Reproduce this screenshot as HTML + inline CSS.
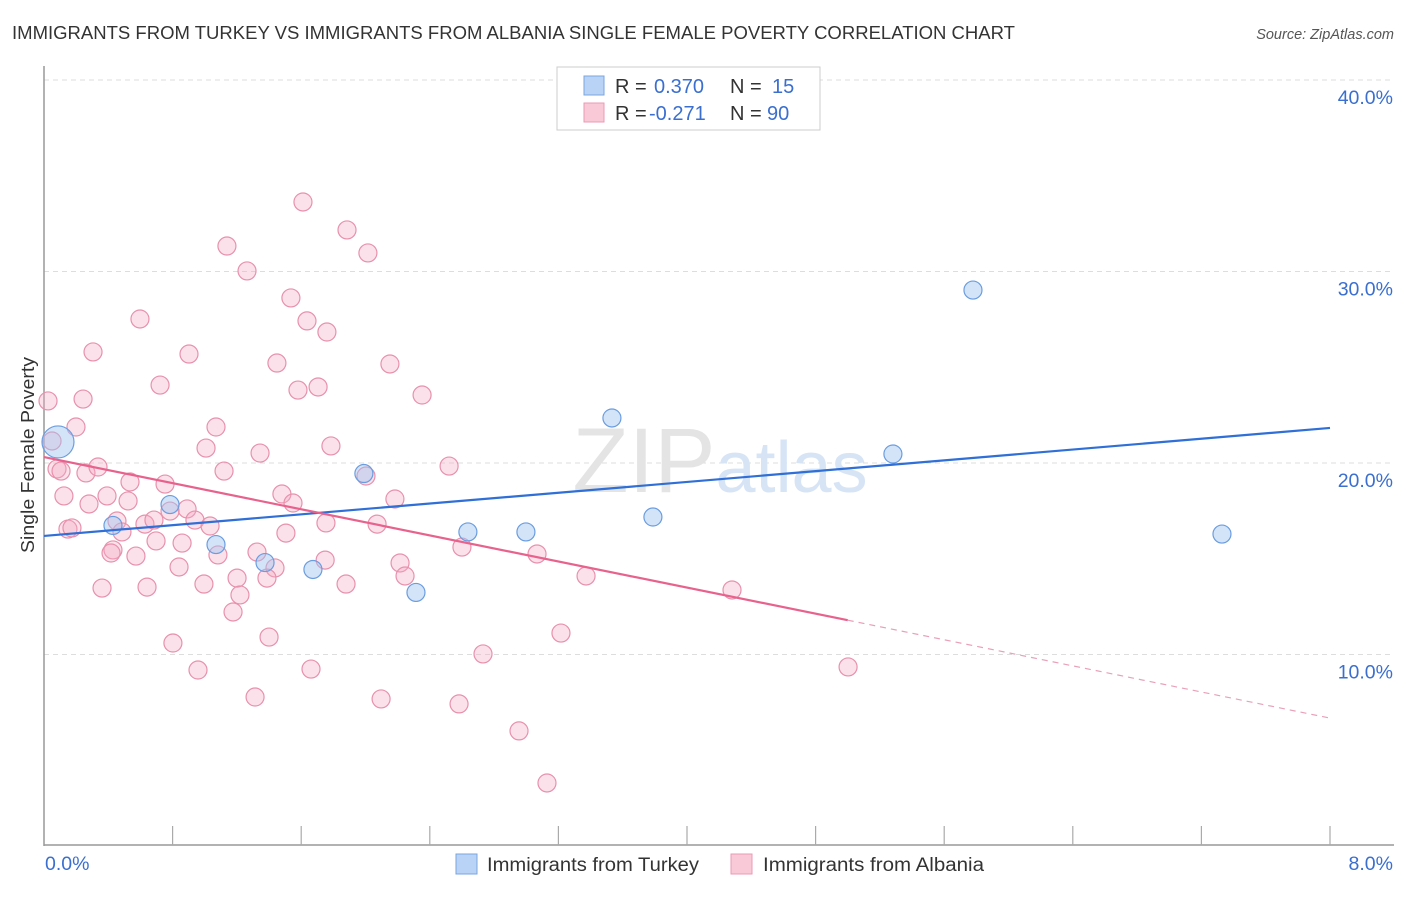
<!DOCTYPE html>
<html><head><meta charset="utf-8">
<style>
body{margin:0;background:#fff;font-family:"Liberation Sans",sans-serif;}
svg text{font-family:"Liberation Sans",sans-serif;}
</style></head>
<body>
<svg id="chart" width="1406" height="892" viewBox="0 0 1406 892" xmlns="http://www.w3.org/2000/svg">
<text x="12" y="39" font-size="18" fill="#333" textLength="1003" lengthAdjust="spacingAndGlyphs">IMMIGRANTS FROM TURKEY VS IMMIGRANTS FROM ALBANIA SINGLE FEMALE POVERTY CORRELATION CHART</text>
<text x="1394" y="39" font-size="14.5" fill="#555" font-style="italic" text-anchor="end">Source: ZipAtlas.com</text>
<g id="grid"></g>
<text x="720" y="492" font-size="92" fill="#e4e4e4" text-anchor="middle" font-family="Liberation Serif"><tspan>ZIP</tspan><tspan fill="#d6e4f6" font-family="Liberation Sans" font-size="72">atlas</tspan></text>
<g id="axes"></g>
<g id="points"></g>
<g id="trends"></g>
<text transform="translate(34,455) rotate(-90)" font-size="18" fill="#333" text-anchor="middle" textLength="196" lengthAdjust="spacingAndGlyphs">Single Female Poverty</text>
<g>
<rect x="557" y="67" width="263" height="63" fill="#fff" stroke="#ccc"/>
<rect x="584" y="76" width="20" height="19" fill="#b8d3f5" stroke="#7aa6e0"/>
<rect x="584" y="103" width="20" height="19" fill="#f9c9d8" stroke="#ea9ab4"/>
<text x="615" y="93" font-size="20" fill="#333">R = <tspan x="654" fill="#3a6fd0">0.370</tspan><tspan x="730">N = </tspan><tspan x="772" fill="#3a6fd0">15</tspan></text>
<text x="615" y="120" font-size="20" fill="#333">R = <tspan x="649" fill="#3a6fd0">-0.271</tspan><tspan x="730">N = </tspan><tspan x="767" fill="#3a6fd0">90</tspan></text>
</g>
<g>
<rect x="456" y="854" width="21" height="20" fill="#b8d3f5" stroke="#7aa6e0"/>
<text x="487" y="871" font-size="19" fill="#333" textLength="212" lengthAdjust="spacingAndGlyphs">Immigrants from Turkey</text>
<rect x="731" y="854" width="21" height="20" fill="#f9c9d8" stroke="#ea9ab4"/>
<text x="763" y="871" font-size="19" fill="#333" textLength="221" lengthAdjust="spacingAndGlyphs">Immigrants from Albania</text>
</g>
</svg>
<script>
const yTicks=[10,20,30,40];
const yTickLabels=["10.0%","20.0%","30.0%","40.0%"];
const xTickLabels=["0.0%","8.0%"];
const turkeyX=[0.087,0.429,0.784,1.07,1.375,1.673,1.99,2.314,2.637,2.998,3.533,3.788,5.281,5.779,7.328];
const turkeyY=[21.1,16.74,17.83,15.74,14.8,14.44,19.45,13.24,16.4,16.4,22.35,17.18,20.47,29.03,16.29];
const turkeySize=[16,9,9,9,9,9,9,9,9,9,9,9,9,9,9];
const albaniaX=[1.611,1.885,2.015,1.138,1.263,1.536,1.636,1.76,0.597,0.305,0.902,1.449,2.152,0.722,1.58,1.705,2.352,0.243,0.025,1.07,0.199,0.05,1.785,1.008,1.344,2.52,0.081,0.106,0.261,0.336,1.12,2.003,0.753,0.535,0.124,1.48,1.549,2.183,0.28,0.392,0.523,0.89,0.784,0.454,0.628,0.939,0.684,1.754,2.072,0.149,0.174,0.485,1.033,1.505,0.697,0.859,2.6,0.429,0.417,0.572,1.082,1.325,1.749,3.067,2.215,0.84,1.437,1.201,1.387,2.246,3.372,0.361,0.641,0.995,1.879,1.219,4.28,1.176,3.216,0.802,1.4,2.731,0.958,1.661,5.002,1.313,2.097,2.582,2.955,3.129];
const albaniaY=[33.63,32.17,30.97,31.33,30.03,28.62,27.42,26.84,27.52,25.8,25.69,25.22,25.17,24.07,23.81,23.97,23.55,23.34,23.24,21.88,21.88,21.15,20.89,20.78,20.52,19.84,19.69,19.58,19.48,19.79,19.58,19.32,18.9,19.01,18.28,18.38,17.91,18.12,17.86,18.28,18.02,17.6,17.49,16.97,16.81,17.02,17.02,16.87,16.81,16.55,16.61,16.4,16.71,16.34,15.93,15.82,15.61,15.46,15.3,15.14,15.2,15.35,14.93,15.25,14.78,14.57,14.52,13.99,13.99,14.1,14.1,13.47,13.52,13.68,13.68,13.11,13.37,12.22,11.12,10.6,10.91,10.03,9.19,9.24,9.35,7.78,7.68,7.42,6.01,3.29];
const turkeyTrend=[16.19,21.83];
const albaniaTrend=[20.31,6.68];
const albaniaSolidEnd=5.0;

const L=44,R=1330,B=846,PX=(R-L)/8,PY=19.15;
const sx=v=>L+v*PX, sy=v=>B-v*PY;
const NS="http://www.w3.org/2000/svg";
function mk(tag,attrs,parent){const e=document.createElementNS(NS,tag);for(const k in attrs)e.setAttribute(k,attrs[k]);parent.appendChild(e);return e;}
const grid=document.getElementById('grid'),axes=document.getElementById('axes'),pts=document.getElementById('points'),tr=document.getElementById('trends');
yTicks.forEach((t,i)=>{
  const l=mk('line',{x1:L,x2:1392,y1:sy(t),y2:sy(t),stroke:'#ddd','stroke-dasharray':'5,4'},grid);
  
  
  const tx=mk('text',{x:1393,y:sy(t)+24,'font-size':19.5,fill:'#3a6fd0','text-anchor':'end'},grid);
  tx.textContent=yTickLabels[i];
  
  
});
const ya=mk('line',{x1:L,x2:L,y1:66,y2:B,stroke:'#999','stroke-width':1.5},axes);


const xa=mk('line',{x1:L,x2:1394,y1:845,y2:845,stroke:'#999','stroke-width':1.5},axes);


for(let i=1;i<=10;i++){
  const t=mk('line',{x1:L+i*PX*0.8,x2:L+i*PX*0.8,y1:826,y2:845,stroke:'#aaa','stroke-width':1.2},axes);
  
  
}
const x0=mk('text',{x:45,y:870,'font-size':19.5,fill:'#3a6fd0'},axes);x0.textContent=xTickLabels[0];


const x1=mk('text',{x:1393,y:870,'font-size':19.5,fill:'#3a6fd0','text-anchor':'end'},axes);x1.textContent=xTickLabels[1];


albaniaX.forEach((x,i)=>{
  const c=mk('circle',{cx:sx(x),cy:sy(albaniaY[i]),r:9,fill:'rgba(244,170,195,0.35)',stroke:'#e891ad','stroke-width':1.2},pts);
  
  
});
turkeyX.forEach((x,i)=>{
  const c=mk('circle',{cx:sx(x),cy:sy(turkeyY[i]),r:turkeySize[i],fill:'rgba(160,196,240,0.45)',stroke:'#6a9de0','stroke-width':1.2},pts);
  
  
});
const lerp=(a,x)=>a[0]+(a[1]-a[0])*x/8;
const bt=mk('line',{x1:sx(0),y1:sy(turkeyTrend[0]),x2:sx(8),y2:sy(turkeyTrend[1]),stroke:'#2f6fd6','stroke-width':2.2},tr);


const pt=mk('line',{x1:sx(0),y1:sy(albaniaTrend[0]),x2:sx(albaniaSolidEnd),y2:sy(lerp(albaniaTrend,albaniaSolidEnd)),stroke:'#e8628e','stroke-width':2.2},tr);


const pd=mk('line',{x1:sx(albaniaSolidEnd),y1:sy(lerp(albaniaTrend,albaniaSolidEnd)),x2:sx(8),y2:sy(albaniaTrend[1]),stroke:'#e8a0b8','stroke-width':1.2,'stroke-dasharray':'6,5'},tr);


</script>
</body></html>
